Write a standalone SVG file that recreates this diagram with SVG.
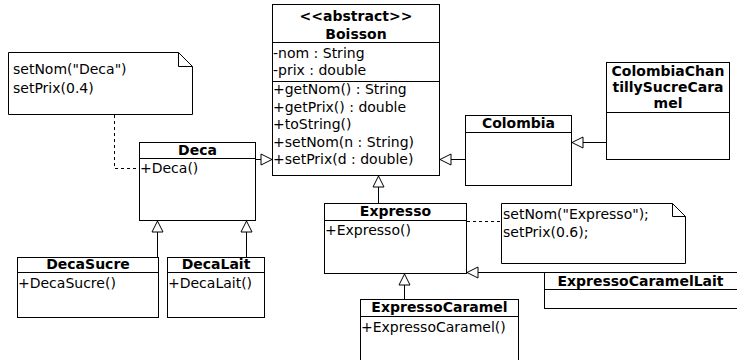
<svg xmlns="http://www.w3.org/2000/svg" width="737" height="360" viewBox="0 0 737 360">
  <style>
    .box { fill: #fff; stroke: #000; stroke-width: 1; }
    .sep { stroke: #000; stroke-width: 1; fill: none; }
    .note { fill: #fff; stroke: #000; stroke-width: 1; }
    .t { font-family: "DejaVu Sans", "Liberation Sans", sans-serif; font-size: 14px; fill: #000; }
    .b { font-weight: bold; text-anchor: middle; }
    .gen { stroke: #000; stroke-width: 1; fill: none; marker-end: url(#tri); }
    .dash { stroke: #000; stroke-width: 1; fill: none; stroke-dasharray: 3 3; }
  </style>
  <defs>
    <marker id="tri" markerUnits="userSpaceOnUse" markerWidth="13" markerHeight="13" refX="11" refY="5.5" orient="auto" viewBox="-1 -1 13 13">
      <path d="M0,0 L11,5.5 L0,11 Z" fill="#fff" stroke="#000" stroke-width="1"/>
    </marker>
  </defs>
  <rect width="737" height="360" fill="#fff"/>

  <!-- Notes -->
  <g id="note-deca">
    <polygon class="note" points="8.5,52.5 178.5,52.5 192.5,66.5 192.5,114.5 8.5,114.5"/>
    <path class="sep" d="M178.5,52.5 V66.5 H192.5"/>
    <text class="t" x="13" y="74">setNom("Deca")</text>
    <text class="t" x="13" y="93">setPrix(0.4)</text>
  </g>
  <g id="note-expresso">
    <polygon class="note" points="501.5,203.5 672.5,203.5 685.5,216.5 685.5,263.5 501.5,263.5"/>
    <path class="sep" d="M672.5,203.5 V216.5 H685.5"/>
    <text class="t" x="503" y="219">setNom("Expresso");</text>
    <text class="t" x="503" y="237">setPrix(0.6);</text>
  </g>

  <!-- Connectors -->
  <g id="connectors">
    <line class="gen" x1="255" y1="159.5" x2="272" y2="159.5"/>
    <line class="gen" x1="465" y1="159.5" x2="440" y2="159.5"/>
    <line class="gen" x1="606" y1="142.5" x2="572" y2="142.5"/>
    <line class="gen" x1="378.5" y1="203" x2="378.5" y2="176"/>
    <line class="gen" x1="157.5" y1="257" x2="157.5" y2="221"/>
    <line class="gen" x1="246.5" y1="257" x2="246.5" y2="221"/>
    <line class="gen" x1="404.5" y1="299" x2="404.5" y2="274"/>
    <line class="gen" x1="544" y1="272.5" x2="467" y2="272.5"/>
    <path class="dash" d="M114.5,115 V168.5 H139"/>
    <path class="dash" d="M467,221.5 H501"/>
  </g>

  <!-- Classes -->
  <g id="boisson">
    <rect class="box" x="272.5" y="4.5" width="167" height="171"/>
    <path class="sep" d="M272.5,42.5 H439.5 M272.5,81.5 H439.5"/>
    <text class="t b" x="356" y="21">&lt;&lt;abstract&gt;&gt;</text>
    <text class="t b" x="356" y="38.5">Boisson</text>
    <text class="t" x="273" y="57.5">-nom : String</text>
    <text class="t" x="273" y="75">-prix : double</text>
    <text class="t" x="273" y="94">+getNom() : String</text>
    <text class="t" x="273" y="111.5">+getPrix() : double</text>
    <text class="t" x="273" y="129">+toString()</text>
    <text class="t" x="273" y="146.5">+setNom(n : String)</text>
    <text class="t" x="273" y="164">+setPrix(d : double)</text>
  </g>

  <g id="deca">
    <rect class="box" x="139.5" y="142.5" width="116" height="78"/>
    <path class="sep" d="M139.5,158.5 H255.5"/>
    <text class="t b" x="197.5" y="155">Deca</text>
    <text class="t" x="140" y="173">+Deca()</text>
  </g>

  <g id="decasucre">
    <rect class="box" x="17.5" y="257.5" width="141" height="60"/>
    <path class="sep" d="M17.5,272.5 H158.5"/>
    <text class="t b" x="88" y="269">DecaSucre</text>
    <text class="t" x="18" y="288">+DecaSucre()</text>
  </g>

  <g id="decalait">
    <rect class="box" x="167.5" y="257.5" width="97" height="60"/>
    <path class="sep" d="M167.5,272.5 H264.5"/>
    <text class="t b" x="216" y="269">DecaLait</text>
    <text class="t" x="168" y="288">+DecaLait()</text>
  </g>

  <g id="expresso">
    <rect class="box" x="324.5" y="203.5" width="142" height="70"/>
    <path class="sep" d="M324.5,220.5 H466.5"/>
    <text class="t b" x="395.5" y="216">Expresso</text>
    <text class="t" x="325" y="235">+Expresso()</text>
  </g>

  <g id="expressocaramel">
    <rect class="box" x="360.5" y="299.5" width="158" height="70"/>
    <path class="sep" d="M360.5,316.5 H518.5"/>
    <text class="t b" x="439.5" y="312">ExpressoCaramel</text>
    <text class="t" x="361" y="332">+ExpressoCaramel()</text>
  </g>

  <g id="expressocaramellait">
    <rect class="box" x="544.5" y="272.5" width="200" height="36"/>
    <path class="sep" d="M544.5,289.5 H737"/>
    <text class="t b" x="640.5" y="286">ExpressoCaramelLait</text>
  </g>

  <g id="colombia">
    <rect class="box" x="465.5" y="115.5" width="106" height="70"/>
    <path class="sep" d="M465.5,132.5 H571.5"/>
    <text class="t b" x="518.5" y="128">Colombia</text>
  </g>

  <g id="colombiachantillysucrecaramel">
    <rect class="box" x="606.5" y="62.5" width="123" height="97"/>
    <path class="sep" d="M606.5,112.5 H729.5"/>
    <text class="t b" x="668" y="76">ColombiaChan</text>
    <text class="t b" x="668" y="92">tillySucreCara</text>
    <text class="t b" x="668" y="108">mel</text>
  </g>
</svg>
